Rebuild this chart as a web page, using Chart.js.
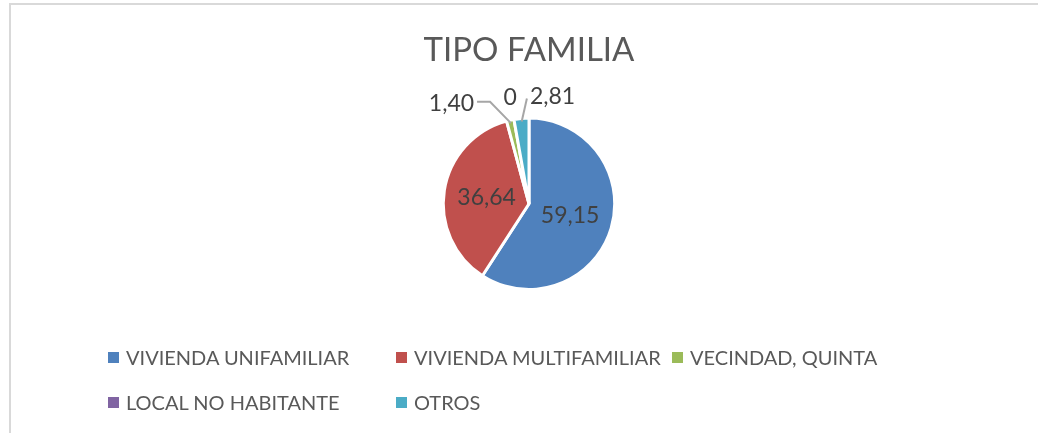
<!DOCTYPE html>
<html>
<head>
<meta charset="utf-8">
<script src="https://cdn.jsdelivr.net/npm/chart.js@4.4.1/dist/chart.umd.min.js"></script>
<style>
  body { margin: 0; background: #fff; }
  .wrap { position: relative; width: 1038px; height: 433px; overflow: hidden; }
  .frame { position: absolute; left: 9px; top: 3px; width: 1100px; height: 500px;
           border-left: 2px solid #d9d9d9; border-top: 2px solid #d9d9d9; }
  canvas { position: absolute; left: 0; top: 0; }
  .legend { position: absolute; left: 108px; top: 345px; font-family: Lato, sans-serif;
            font-size: 20px; color: #595959; display: grid;
            grid-template-columns: 288px 276px auto; row-gap: 21px; }
  .legend div { display: flex; align-items: center; white-space: nowrap; }
  .legend span { display: inline-block; width: 11px; height: 11px; margin-right: 7px; }
</style>
</head>
<body>
<div class="wrap">
  <div class="frame"></div>
  <canvas id="myChart" width="1038" height="433"></canvas>
  <div class="legend" id="legend"></div>
</div>
<script>
const categories = ['VIVIENDA UNIFAMILIAR', 'VIVIENDA MULTIFAMILIAR', 'VECINDAD, QUINTA', 'LOCAL NO HABITANTE', 'OTROS'];
const values = [59.15, 36.64, 1.40, 0, 2.81];
const valueLabels = ['59,15', '36,64', '1,40', '0', '2,81'];
const colors = ['#4F81BD', '#C0504D', '#9BBB59', '#8064A2', '#4BACC6'];

// nudges for the small outside labels (dx, dy from the default spot)
const labelNudge = { 2: [-54, 5], 3: [0, 0], 4: [33, 0] };

// legend in html so the columns line up like the original
let legendDiv = document.querySelector('#legend');
let str = '';
categories.forEach((c, i) => {
  str += `<div><span style="background:${colors[i]}"></span>${c}</div>`;
});
legendDiv.innerHTML = str;

const pieLabels = {
  id: 'pieLabels',
  afterDatasetsDraw(chart) {
    let ctx = chart.ctx;
    let meta = chart.getDatasetMeta(0);
    let total = values.reduce((a, b) => a + b);
    ctx.save();
    ctx.font = '23px Lato, sans-serif';
    ctx.fillStyle = '#404040';
    ctx.textAlign = 'center';
    ctx.textBaseline = 'middle';
    meta.data.forEach((arc, i) => {
      if (values[i] / total > 0.1) {
        let p = arc.tooltipPosition();
        ctx.fillText(valueLabels[i], p.x, p.y);
        return;
      }
      let mid = (arc.startAngle + arc.endAngle) / 2;
      let r = arc.outerRadius;
      let nudge = labelNudge[i] || [0, 0];
      let lx = arc.x + Math.cos(mid) * (r + 22) + nudge[0];
      let ly = arc.y + Math.sin(mid) * (r + 22) + nudge[1];
      ctx.fillText(valueLabels[i], lx, ly);
      if (values[i] == 0) return;
      let ex = arc.x + Math.cos(mid) * (r - 3);
      let ey = arc.y + Math.sin(mid) * (r - 3);
      let w = ctx.measureText(valueLabels[i]).width;
      ctx.strokeStyle = '#a6a6a6';
      ctx.lineWidth = 2;
      ctx.beginPath();
      if (nudge[0] < 0) {
        ctx.moveTo(lx + w / 2 + 3, ly - 2);
        ctx.lineTo(lx + w / 2 + 16, ly - 2);
        ctx.lineTo(ex, ey);
      } else {
        ctx.moveTo(lx - w / 2 - 3, ly + 2);
        ctx.lineTo(ex, ey);
      }
      ctx.stroke();
    });
    ctx.restore();
  }
};

let myChart = new Chart(document.querySelector('#myChart').getContext('2d'), {
  type: 'pie',
  data: {
    labels: categories,
    datasets: [{
      data: values,
      backgroundColor: colors,
      borderColor: '#ffffff',
      borderWidth: 3
    }]
  },
  options: {
    responsive: false,
    animation: false,
    layout: { padding: { left: 20, right: 0, top: 0, bottom: 142 } },
    plugins: {
      legend: { display: false },
      tooltip: { enabled: false },
      title: {
        display: true,
        text: 'TIPO FAMILIA',
        color: '#595959',
        font: { family: 'Lato, sans-serif', size: 33, weight: 'normal' },
        padding: { top: 31, bottom: 46 }
      }
    }
  },
  plugins: [pieLabels]
});
</script>
</body>
</html>
